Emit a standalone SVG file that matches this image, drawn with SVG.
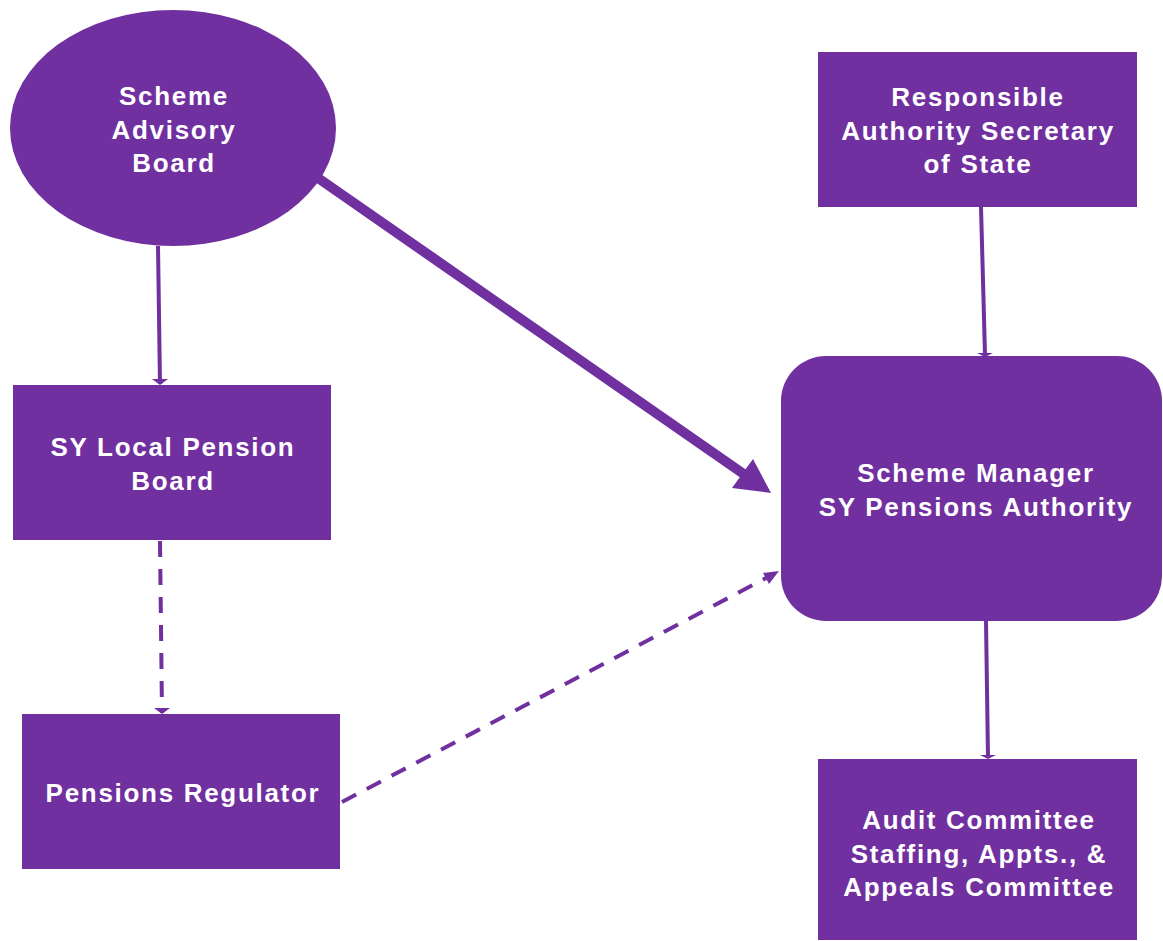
<svg xmlns="http://www.w3.org/2000/svg" width="1163" height="941" viewBox="0 0 1163 941">
<style>
.n{fill:#7030A0}
.t{fill:#fff;font-family:"Liberation Sans",Arial,sans-serif;font-weight:bold;font-size:26px;letter-spacing:1.7px;text-anchor:middle}
.c{stroke:#7030A0;fill:none;stroke-width:4}
.d{stroke-dasharray:16 12}
</style>
<g id="connectors">
<line class="c" x1="158" y1="246" x2="160" y2="384"/>
<polygon class="n" points="152,379 168,379 160,385"/>
<line class="c d" x1="160" y1="541" x2="162" y2="713"/>
<polygon class="n" points="154,708 170,708 162,714"/>
<line class="c" x1="981" y1="207" x2="985" y2="355"/>
<polygon class="n" points="977,353 993,353 985,357"/>
<line class="c" x1="986" y1="621" x2="988" y2="758"/>
<polygon class="n" points="980,755 996,755 988,759"/>
<line stroke="#7030A0" stroke-width="10" x1="318" y1="178" x2="748" y2="477"/>
<polygon class="n" points="771,493 732,488 753,459"/>
<line class="c d" x1="342" y1="802" x2="768" y2="577"/>
<polygon class="n" points="779,571 763,573 769,584"/>
</g>
<g id="scheme-advisory-board">
<ellipse class="n" cx="173" cy="128" rx="163" ry="118"/>
<text class="t"><tspan x="174" y="105">Scheme</tspan><tspan x="174" y="139">Advisory</tspan><tspan x="174" y="172">Board</tspan></text>
</g>
<g id="responsible-authority">
<rect class="n" x="818" y="52" width="319" height="155"/>
<text class="t"><tspan x="978" y="106">Responsible</tspan><tspan x="978" y="140">Authority Secretary</tspan><tspan x="978" y="173">of State</tspan></text>
</g>
<g id="local-pension-board">
<rect class="n" x="13" y="385" width="318" height="155"/>
<text class="t"><tspan x="173" y="456">SY Local Pension</tspan><tspan x="173" y="490">Board</tspan></text>
</g>
<g id="pensions-regulator">
<rect class="n" x="22" y="714" width="318" height="155"/>
<text class="t" x="183" y="802">Pensions Regulator</text>
</g>
<g id="scheme-manager">
<rect class="n" x="781" y="356" width="381" height="265" rx="45" ry="45"/>
<text class="t"><tspan x="976" y="482">Scheme Manager</tspan><tspan x="976" y="516">SY Pensions Authority</tspan></text>
</g>
<g id="audit-committee">
<rect class="n" x="818" y="759" width="319" height="181"/>
<text class="t"><tspan x="979" y="829">Audit Committee</tspan><tspan x="979" y="863">Staffing, Appts., &amp;</tspan><tspan x="979" y="896">Appeals Committee</tspan></text>
</g>
</svg>
